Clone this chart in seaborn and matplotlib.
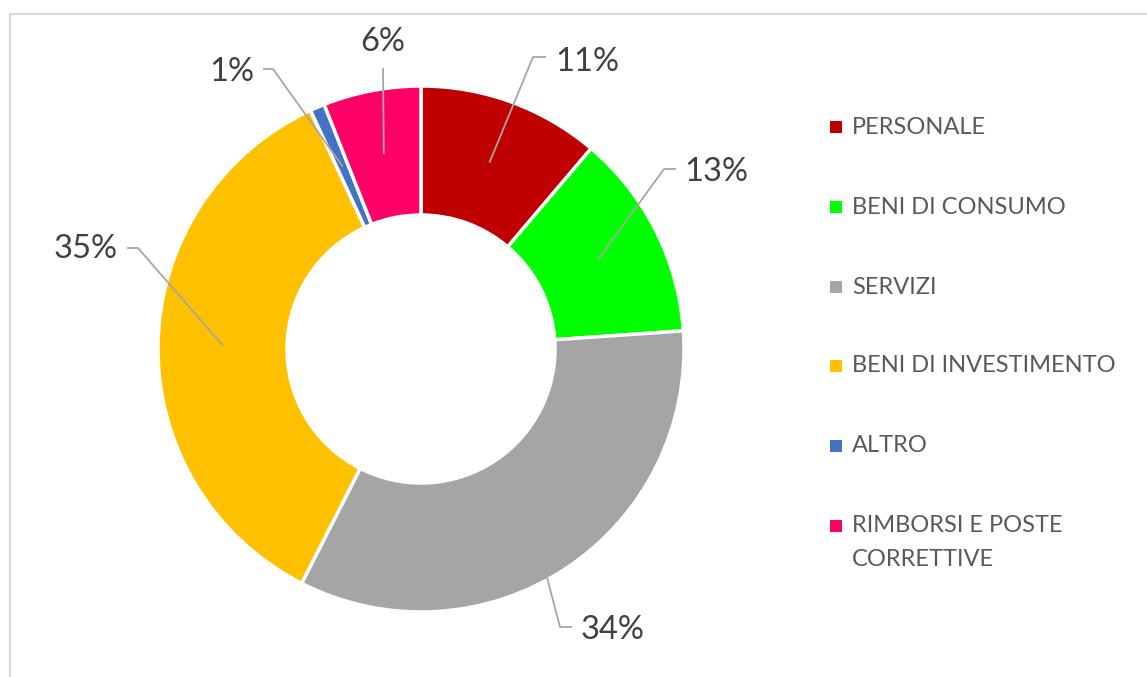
import numpy as np
import matplotlib
matplotlib.use("Agg")
import matplotlib.pyplot as plt
import seaborn as sns
from matplotlib.patches import Rectangle

# ---- data ----
categories = ["PERSONALE", "BENI DI CONSUMO", "SERVIZI", "BENI DI INVESTIMENTO",
              "ALTRO", "RIMBORSI E POSTE\nCORRETTIVE"]
values = [11.2, 12.7, 33.6, 35.6, 0.9, 6.0]
labels = ["11%", "13%", "34%", "35%", "1%", "6%"]
colors = ["#C00000", "#00FF00", "#A5A5A5", "#FFC000", "#4472C4", "#FF0066"]

# ---- layout (pixel coords, y from top) ----
W, H = 1147, 677
CX, CY = 421, 349
R_OUT, R_IN = 263, 134
label_pos = [(555, 62), (684, 172), (581, 630), (118, 249), (254, 72), (383, 42)]
elbows = [(533, 57), (664, 169), (560, 627), (138, 248), (273, 69), (383, 68)]
ends = [(546, 57), (676, 169), (572, 627), (127, 248), (263, 69), (383, 68)]
aligns = ["left", "left", "left", "right", "right", "center"]

sns.set_theme(style="white")
plt.rcParams["font.family"] = ["Lato", "DejaVu Sans"]

fig = plt.figure(figsize=(W / 100, H / 100), dpi=100)
ax = fig.add_axes([0, 0, 1, 1])

def Y(y):
    return H - y

wedges, _ = ax.pie(values, radius=R_OUT, center=(CX, Y(CY)), startangle=90,
                   counterclock=False, colors=colors,
                   wedgeprops=dict(width=R_OUT - R_IN, edgecolor="white", linewidth=2.5))

r_mid = (R_OUT + R_IN) / 2
for w, lab, lp, el, en, al in zip(wedges, labels, label_pos, elbows, ends, aligns):
    mid = np.deg2rad((w.theta1 + w.theta2) / 2)
    a_x = CX + r_mid * np.cos(mid)
    a_y = Y(CY) + r_mid * np.sin(mid)
    ax.plot([a_x, el[0], en[0]], [a_y, Y(el[1]), Y(en[1])], color="#A6A6A6",
            lw=1.3, zorder=5, solid_capstyle="butt")
    ax.text(lp[0], Y(lp[1]), lab, ha=al, va="center", fontsize=23.5,
            color="#404040", zorder=6)

# legend (manual, marker aligned with first text line)
leg_y = [127, 207, 287, 366, 446, 526]
line_gap = 34
for cat, col, ly in zip(categories, colors, leg_y):
    ax.scatter([836], [Y(ly)], marker="s", s=85, color=col, edgecolors="none", zorder=6)
    for k, line in enumerate(cat.split("\n")):
        ax.text(852, Y(ly + k * line_gap), line, ha="left", va="center",
                fontsize=17, color="#595959")

ax.set_xlim(0, W)
ax.set_ylim(0, H)
ax.set_aspect("auto")
ax.axis("off")

# chart frame
fig.patches.append(Rectangle((10 / W, -0.1), 1.2, (H - 14) / H + 0.1,
                             transform=fig.transFigure, fill=False,
                             edgecolor="#D9D9D9", lw=1.5))

fig.savefig("out.png", dpi=100, facecolor="white")
